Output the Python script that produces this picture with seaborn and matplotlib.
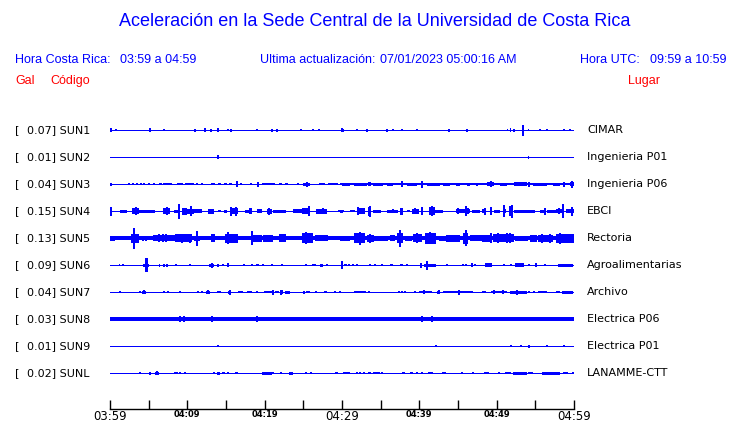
import matplotlib
matplotlib.use("Agg")
import matplotlib.pyplot as plt
import seaborn as sns

sns.set_theme(style="white")
plt.rcParams['font.family'] = ['DejaVu Sans']

BLUE = '#0000ff'
RED = '#ff0000'

# estaciones
codigos = ['SUN1', 'SUN2', 'SUN3', 'SUN4', 'SUN5', 'SUN6', 'SUN7', 'SUN8', 'SUN9', 'SUNL']
gal = [0.07, 0.01, 0.04, 0.15, 0.13, 0.09, 0.04, 0.03, 0.01, 0.02]
lugares = ['CIMAR', 'Ingenieria P01', 'Ingenieria P06', 'EBCI', 'Rectoria',
           'Agroalimentarias', 'Archivo', 'Electrica P06', 'Electrica P01', 'LANAMME-CTT']

# eje de tiempo (minutos desde 03:59)
ticks_min = list(range(0, 61, 5))
ticks_lab = ['03:59', '', '04:09', '', '04:19', '', '04:29', '', '04:39', '', '04:49', '', '04:59']
ticks_big = ['03:59', '04:29', '04:59']

# nivel de ruido de fondo por traza (amplitud relativa)
ruido = [0.5, 0.5, 0.5, 0.5, 2.0, 0.5, 0.5, 1.2, 0.5, 0.5]

# eventos: (minuto inicio, minuto fin, amplitud relativa)
sun1 = [(0.1, 0.1, 2), (0.7, 0.9, 1), (5.2, 5.2, 2), (7.0, 7.0, 1), (11.0, 11.0, 1.5), (12.3, 12.3, 2),
        (13.1, 13.1, 1.5), (13.9, 14.1, 1.2), (14.0, 14.0, 1.8), (15.2, 15.2, 1.2), (15.6, 15.6, 1.5),
        (19.0, 19.0, 1), (20.9, 20.9, 1.5), (21.6, 21.6, 1.5), (24.7, 24.7, 1), (26.3, 26.3, 1),
        (26.9, 27.1, 1.3), (30.0, 30.0, 2), (30.1, 30.1, 1.5), (31.9, 31.9, 1), (33.2, 33.2, 1.5),
        (35.8, 35.8, 1.5), (36.6, 36.6, 1.2), (37.7, 37.7, 1), (39.7, 39.7, 1), (43.9, 43.9, 1.5),
        (46.1, 46.1, 1.5), (51.3, 51.5, 1.2), (51.7, 51.9, 2), (52.2, 52.2, 1.5), (53.3, 53.5, 1.5),
        (53.4, 53.4, 5.5), (54.1, 54.2, 1.3), (55.6, 55.6, 1), (56.5, 56.5, 1), (58.7, 58.7, 1.2),
        (59.5, 59.5, 1)]
sun2 = [(14.0, 14.0, 1.7), (54.1, 54.2, 1.5)]
sun3 = [(0.0, 0.3, 1.5), (2.4, 2.4, 1), (3.0, 3.0, 1), (3.5, 3.5, 1), (4.0, 4.0, 1), (4.4, 4.4, 1),
        (5.1, 5.1, 1), (5.6, 5.8, 1.3), (6.3, 6.7, 1.3), (6.9, 8.0, 1.3), (8.6, 9.5, 1.3), (9.7, 10.6, 1.3),
        (10.6, 10.9, 1.3), (11.2, 11.2, 1.2), (11.9, 11.9, 1.2), (13.1, 13.6, 1.3), (14.0, 14.4, 1.3),
        (14.7, 15.1, 1.3), (15.4, 15.8, 1.3), (16.3, 16.6, 1.6), (16.4, 16.4, 3), (17.0, 17.0, 1.3),
        (18.1, 18.3, 1.3), (19.0, 19.2, 1.5), (19.1, 19.1, 2.5), (19.6, 21.3, 1.3), (21.8, 22.2, 1.3),
        (22.6, 23.0, 1.3), (24.3, 24.3, 1.3), (25.0, 25.9, 1.5), (25.5, 25.5, 2.5), (27.0, 27.8, 1.3),
        (28.2, 29.5, 1.3), (29.7, 60.0, 1.1), (30.0, 31.0, 1.5), (31.5, 33.2, 1.5), (33.4, 33.8, 2),
        (34.0, 35.3, 1.5), (35.8, 36.6, 1.5), (37.7, 37.7, 3), (38.4, 39.7, 1.5), (40.3, 40.3, 3.5),
        (41.0, 42.7, 1.5), (43.1, 44.0, 1.5), (44.8, 45.3, 1.5), (46.1, 46.6, 1.5), (47.4, 47.4, 1.5),
        (48.7, 49.6, 1.6), (49.3, 49.3, 3), (50.4, 51.3, 1.5), (52.2, 53.9, 1.6), (54.2, 54.2, 2.5),
        (54.7, 56.5, 1.5), (57.3, 58.2, 1.5), (58.7, 58.7, 2.5), (59.5, 60.0, 1.8), (59.8, 59.8, 3.5)]
sun4 = [(0.0, 0.2, 1.5), (0.1, 0.1, 4.5), (1.3, 2.2, 1.5), (2.9, 3.7, 3), (3.3, 3.3, 4), (3.7, 5.8, 1.5),
        (6.9, 7.8, 3), (7.4, 7.4, 4), (8.3, 8.8, 1.5), (8.9, 8.9, 7.5), (9.3, 9.9, 3.5), (10.0, 10.9, 2.5),
        (10.5, 10.5, 5), (10.9, 11.9, 2), (12.7, 13.4, 2.5), (14.0, 14.4, 1), (14.7, 15.1, 1.5),
        (15.5, 16.6, 3), (15.7, 15.7, 4.5), (16.3, 16.3, 4.5), (17.5, 18.3, 1.5), (18.0, 18.4, 3.2),
        (19.0, 19.6, 2), (20.3, 20.9, 2.5), (20.5, 20.5, 3.5), (21.1, 22.8, 1.5), (23.7, 24.8, 2),
        (24.8, 25.9, 3), (25.7, 25.7, 5), (26.7, 28.0, 2.5), (27.6, 27.6, 3), (29.5, 30.2, 1),
        (29.7, 30.1, 1.5), (31.0, 31.7, 1), (31.9, 33.0, 3), (32.1, 32.1, 4), (33.4, 33.8, 4.5),
        (33.6, 33.6, 5.5), (34.0, 35.1, 1.5), (35.8, 37.3, 1.5), (36.6, 36.6, 2), (37.5, 37.9, 3.5),
        (38.4, 38.8, 1), (39.0, 39.9, 2.5), (39.4, 39.4, 3), (40.3, 40.3, 4), (41.3, 42.0, 4),
        (41.6, 41.6, 5), (42.0, 43.1, 1.5), (44.8, 46.6, 2), (45.0, 45.0, 3), (46.0, 46.0, 5),
        (46.3, 46.3, 3), (46.8, 47.9, 1.5), (48.1, 48.6, 2), (48.5, 48.5, 3.5), (49.3, 49.3, 4),
        (49.6, 50.4, 1.5), (50.8, 51.2, 2), (51.0, 51.0, 6), (51.7, 51.7, 5), (52.0, 52.0, 6.5),
        (52.2, 55.0, 1.5), (55.6, 56.3, 1.5), (56.2, 56.2, 3.5), (56.5, 57.7, 1.5), (57.7, 58.4, 2),
        (58.0, 58.0, 3), (58.6, 58.6, 7), (59.0, 60.0, 2), (59.8, 59.8, 4.5)]
sun5 = [(0.0, 0.6, 2.5), (2.7, 3.7, 4.5), (3.1, 3.1, 10.5), (4.3, 4.3, 2.5), (4.7, 4.7, 2.5), (5.6, 8.4, 3),
        (6.3, 6.3, 4), (6.9, 6.9, 4), (7.3, 7.3, 4), (8.4, 10.6, 4), (9.3, 9.3, 4.5), (10.3, 10.3, 4.5),
        (10.8, 11.6, 2.5), (11.3, 11.3, 7.5), (11.9, 12.3, 2), (13.1, 13.6, 4), (13.8, 14.7, 2),
        (14.9, 16.6, 4.5), (15.3, 15.3, 6), (16.8, 17.9, 2), (18.3, 18.3, 7), (18.5, 19.6, 3.5),
        (19.8, 21.1, 3.5), (21.8, 22.8, 4), (23.1, 24.4, 2), (24.8, 26.3, 5), (25.4, 25.4, 6),
        (26.5, 28.2, 3), (28.7, 30.4, 2), (29.7, 31.0, 2.5), (31.5, 33.0, 5), (32.3, 32.3, 6.5),
        (33.2, 34.1, 3.5), (33.6, 33.6, 4.5), (34.1, 36.0, 2.5), (36.2, 36.9, 3), (37.1, 37.9, 5),
        (37.5, 37.5, 8.5), (38.2, 39.0, 2.5), (39.2, 40.3, 4), (39.7, 39.7, 5), (40.7, 42.2, 5.5),
        (41.4, 41.4, 6), (42.5, 43.5, 2.5), (43.5, 45.3, 3.5), (45.7, 46.3, 5.5), (46.0, 46.0, 8),
        (46.6, 48.1, 3), (48.1, 49.1, 3.5), (49.3, 49.3, 5), (49.5, 52.2, 4), (50.2, 50.2, 5),
        (51.3, 51.3, 5), (51.7, 51.7, 5), (52.4, 54.1, 2.5), (54.3, 55.2, 3.5), (55.4, 57.3, 3.5),
        (55.8, 55.8, 4.5), (56.9, 56.9, 4.5), (57.7, 60.0, 4.5), (58.2, 58.2, 5.5), (59.0, 59.0, 4.5)]
sun6 = [(1.1, 1.3, 1.2), (1.7, 1.7, 1.2), (4.3, 5.0, 1.5), (4.5, 4.9, 7), (6.3, 6.5, 1.5), (7.0, 7.0, 1.5),
        (7.4, 7.4, 1.5), (8.5, 8.5, 1.2), (10.3, 10.3, 1.3), (12.8, 13.4, 1.5), (13.2, 13.2, 2.5),
        (14.0, 14.0, 1.5), (14.6, 14.6, 1.3), (15.3, 15.3, 2), (17.3, 17.3, 1), (18.3, 18.3, 1.2),
        (18.9, 19.3, 1.2), (19.8, 19.8, 1.2), (21.0, 21.0, 1), (22.1, 22.4, 1.2), (25.4, 25.4, 1.2),
        (26.1, 26.7, 1.2), (27.2, 27.6, 1.5), (28.0, 28.0, 1.2), (30.0, 30.0, 4), (30.2, 30.6, 1.2),
        (30.9, 30.9, 1.2), (31.4, 31.4, 1.2), (31.8, 32.1, 1.2), (33.6, 33.6, 1.2), (34.3, 34.3, 1.2),
        (35.0, 35.3, 1), (36.2, 36.6, 1.2), (37.5, 37.9, 1.2), (38.4, 38.4, 1.2), (40.2, 40.2, 2.5),
        (40.6, 42.2, 1.5), (41.0, 41.0, 4.5), (43.6, 43.6, 1), (45.6, 45.6, 1.2), (46.0, 46.0, 1.2),
        (46.8, 46.8, 2), (47.2, 47.2, 1.2), (48.5, 49.4, 1.8), (51.0, 51.0, 1.2), (51.8, 51.8, 1.2),
        (52.4, 53.5, 1.8), (54.2, 54.2, 1.2), (55.0, 55.2, 2), (56.2, 56.2, 1), (57.9, 59.9, 1.5)]
sun7 = [(1.3, 1.3, 1), (3.9, 3.9, 1), (4.1, 4.7, 1.5), (4.4, 4.4, 2), (7.0, 7.0, 1), (7.5, 7.5, 1),
        (9.0, 9.0, 1.2), (11.4, 11.4, 1), (11.9, 11.9, 1), (12.4, 12.9, 1.5), (12.7, 12.7, 2),
        (13.9, 14.3, 1.3), (15.2, 15.7, 1.5), (15.5, 15.5, 2.5), (16.6, 17.2, 1.3), (17.7, 18.3, 1.3),
        (19.0, 19.0, 1), (19.9, 20.9, 1.3), (21.1, 21.1, 2.5), (21.3, 21.8, 1.3), (22.0, 22.4, 2),
        (22.1, 22.1, 2.5), (22.6, 23.3, 1.5), (25.0, 25.2, 1.5), (25.4, 25.9, 1.2), (26.7, 26.7, 1.2),
        (27.7, 28.1, 1.3), (29.1, 29.1, 1), (29.8, 29.8, 1), (31.5, 33.1, 1.3), (33.5, 33.5, 1),
        (37.4, 37.4, 1), (37.7, 37.7, 1), (38.2, 38.2, 1), (39.4, 39.4, 1), (40.0, 41.6, 1.3),
        (40.6, 40.6, 2), (42.3, 42.7, 1.5), (42.5, 42.5, 2), (43.1, 45.0, 1.3), (45.1, 45.1, 2.5),
        (45.3, 47.0, 1.3), (48.1, 48.6, 1.3), (49.3, 51.3, 1.3), (49.6, 49.6, 2), (50.8, 50.8, 2),
        (51.7, 53.9, 1.5), (52.6, 52.6, 2.5), (54.2, 54.2, 1.3), (54.8, 54.8, 1.3), (55.4, 56.5, 1.3),
        (57.7, 58.2, 1), (58.4, 59.9, 1.5)]
sun8 = [(0.0, 2.6, 1.8), (2.8, 3.9, 1.6), (5.3, 5.3, 2.2), (7.3, 7.3, 2.2), (8.0, 8.0, 2.2),
        (9.1, 9.1, 2.8), (9.6, 9.6, 2.8), (13.2, 13.2, 2.8), (16.4, 16.4, 2), (19.0, 19.0, 2.8),
        (25.9, 25.9, 2.2), (29.7, 31.9, 1.6), (32.1, 32.1, 2.2), (33.4, 34.1, 2), (38.0, 38.0, 2.2),
        (40.3, 40.3, 2.8), (41.2, 41.2, 2.2), (41.6, 41.6, 3.2), (51.7, 53.0, 2), (56.2, 56.2, 2.2),
        (58.7, 58.7, 2.2), (59.5, 59.5, 2.2)]
sun9 = [(14.0, 14.0, 1), (42.2, 42.2, 1), (51.8, 51.8, 1.2), (53.2, 53.2, 1), (54.2, 54.2, 1.5),
        (56.5, 56.5, 0.8), (58.7, 58.7, 1.3)]
sunl = [(3.9, 3.9, 1.2), (5.0, 5.3, 1.5), (5.8, 6.3, 1.5), (6.1, 6.1, 2), (8.4, 8.4, 1.2), (8.7, 8.7, 1.2),
        (9.0, 9.0, 1.2), (9.7, 9.7, 1), (13.5, 13.5, 1), (13.9, 14.2, 1.5), (14.6, 14.6, 1), (14.8, 14.8, 1),
        (15.2, 15.2, 1), (16.1, 16.5, 1.2), (19.6, 20.9, 1.5), (21.1, 21.1, 1), (22.1, 22.1, 1.2),
        (23.1, 23.6, 1.5), (25.4, 25.4, 1.3), (26.0, 26.0, 1), (29.1, 29.5, 1.3), (30.2, 31.0, 1.3),
        (30.3, 30.3, 1), (32.0, 32.0, 1), (32.3, 32.3, 1), (32.8, 32.8, 1), (33.4, 33.8, 1.2),
        (34.0, 34.9, 1.3), (35.2, 35.2, 1), (37.7, 38.1, 1), (38.8, 39.2, 1.3), (39.7, 39.7, 1),
        (40.2, 40.5, 1.3), (41.1, 41.8, 1.3), (43.1, 43.1, 1), (43.3, 43.3, 1), (45.5, 45.5, 1),
        (46.9, 46.9, 1), (48.3, 49.0, 1.3), (50.3, 50.3, 1), (51.1, 51.9, 1.3), (52.1, 53.9, 1.5),
        (54.1, 54.7, 1.2), (55.8, 58.2, 1.5), (58.6, 59.2, 1.2), (59.9, 59.9, 1.2)]
eventos = [sun1, sun2, sun3, sun4, sun5, sun6, sun7, sun8, sun9, sunl]

ESCALA = 27.0  # amplitud relativa que ocupa una fila


def px(x, y):
    return x / 740, 1 - y / 423


fig = plt.figure(figsize=(7.4, 4.23), dpi=100)
ax = fig.add_axes([110 / 740, 14 / 423, 464 / 740, 294 / 423])
ax.set_xlim(0, 60)
ax.set_ylim(10.333, -0.556)

for i, ev in enumerate(eventos):
    lw = max(2 * ruido[i], 1.0) * 0.72
    ax.hlines(i, 0, 60, color=BLUE, lw=lw, antialiased=False)
    for t0, t1, a in ev:
        h = a / ESCALA
        if t1 - t0 < 0.05:
            ax.vlines(t0, i - h, i + h, color=BLUE, lw=1.3, clip_on=False, antialiased=False)
        else:
            ax.bar(t0, 2 * h, width=t1 - t0, bottom=i - h, align='edge', color=BLUE, lw=0,
                   clip_on=False, antialiased=False)

    fig.text(*px(15, 130 + 27 * i), '[', fontsize=8, va='center', color='black')
    fig.text(*px(27, 130 + 27 * i), '%.2f] %s' % (gal[i], codigos[i]), fontsize=8, va='center', color='black')
    fig.text(*px(587, 130 + 27 * i), lugares[i], fontsize=8, va='center', color='black')

ax.set_yticks([])
ax.set_xticks(ticks_min)
ax.set_xticklabels(ticks_lab)
for lab in ax.get_xticklabels():
    if lab.get_text() in ticks_big:
        lab.set_fontsize(8.5)
    else:
        lab.set_fontsize(6)
        lab.set_fontweight('bold')
ax.tick_params(axis='x', direction='in', length=6.5, width=1, pad=1, colors='black', bottom=True)
for s in ['left', 'top', 'right']:
    ax.spines[s].set_visible(False)
ax.spines['bottom'].set_color('black')
ax.spines['bottom'].set_linewidth(1)

# encabezados
sans = ['Liberation Sans', 'DejaVu Sans']
fig.text(*px(375, 22), 'Aceleración en la Sede Central de la Universidad de Costa Rica',
         ha='center', va='center', fontsize=13, color=BLUE, family=sans)
fig.text(*px(15, 60), 'Hora Costa Rica:', va='center', fontsize=9, color=BLUE, family=sans)
fig.text(*px(120, 60), '03:59 a 04:59', va='center', fontsize=9, color=BLUE, family=sans)
fig.text(*px(260, 60), 'Ultima actualización:', va='center', fontsize=9, color=BLUE, family=sans)
fig.text(*px(380, 60), '07/01/2023 05:00:16 AM', va='center', fontsize=9, color=BLUE, family=sans)
fig.text(*px(580, 60), 'Hora UTC:', va='center', fontsize=9, color=BLUE, family=sans)
fig.text(*px(650, 60), '09:59 a 10:59', va='center', fontsize=9, color=BLUE, family=sans)
fig.text(*px(15, 81), 'Gal', va='center', fontsize=9, color=RED, family=sans)
fig.text(*px(50, 81), 'Código', va='center', fontsize=9, color=RED, family=sans)
fig.text(*px(628, 81), 'Lugar', va='center', fontsize=9, color=RED, family=sans)

fig.savefig('out.png', dpi=100, facecolor='white')
